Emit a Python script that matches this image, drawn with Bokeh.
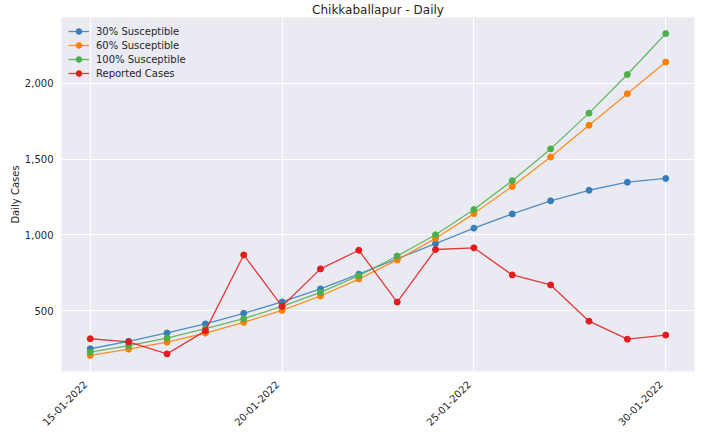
import math
import pandas as pd
from bokeh.plotting import figure
from bokeh.models import (FixedTicker, NumeralTickFormatter, DatetimeTickFormatter,
                          Range1d, DatetimeAxis)
from bokeh.embed import file_html
from bokeh.resources import INLINE

dates = ["15-01-2022", "16-01-2022", "17-01-2022", "18-01-2022", "19-01-2022",
         "20-01-2022", "21-01-2022", "22-01-2022", "23-01-2022", "24-01-2022",
         "25-01-2022", "26-01-2022", "27-01-2022", "28-01-2022", "29-01-2022",
         "30-01-2022"]
sus30 = [248, 297, 352, 412, 482, 557, 643, 740, 842, 942, 1044, 1138, 1224, 1294, 1347, 1372]
sus60 = [204, 245, 291, 351, 422, 501, 596, 708, 834, 976, 1140, 1319, 1513, 1723, 1931, 2140]
sus100 = [226, 268, 318, 380, 446, 528, 620, 730, 860, 1000, 1167, 1357, 1567, 1803, 2058, 2328]
reported = [314, 293, 214, 366, 867, 528, 775, 898, 556, 903, 914, 735, 669, 430, 311, 338]
tick_dates = ["15-01-2022", "20-01-2022", "25-01-2022", "30-01-2022"]
y_ticks = [500, 1000, 1500, 2000]

series = [
    ("30% Susceptible", sus30, "#377eb8"),
    ("60% Susceptible", sus60, "#ff7f00"),
    ("100% Susceptible", sus100, "#4daf4a"),
    ("Reported Cases", reported, "#e41a1c"),
]

x = pd.to_datetime(dates, format="%d-%m-%Y")
xt = pd.to_datetime(tick_dates, format="%d-%m-%Y")
xt_ms = [int(t.value // 10**6) for t in xt]
x0 = x[0].value // 10**6
x1 = x[-1].value // 10**6
span = x1 - x0

allv = sus30 + sus60 + sus100 + reported
lo, hi = min(allv), max(allv)
pad = 0.05 * (hi - lo)

W, H = 707, 434
BL, BR = 61, 13
xs, xe = x0 - 0.05 * span, x1 + 0.05 * span

p = figure(width=W, height=H, x_axis_type="datetime",
           output_backend="svg", toolbar_location=None,
           x_range=Range1d(xs, xe),
           y_range=Range1d(lo - pad, hi + pad),
           min_border_left=BL, min_border_right=BR, min_border_top=17, min_border_bottom=63)

# label axis: same scale, shifted a few px so rotated labels end at the tick (matplotlib ha="right")
shift = 5 * (xe - xs) / (W - BL - BR)
p.extra_x_ranges = {"lbl": Range1d(xs + shift, xe + shift)}

p.title.text = "Chikkaballapur - Daily"
p.title.align = "center"
p.title.text_font = "DejaVu Sans"
p.title.text_font_size = "12px"
p.title.text_font_style = "normal"
p.title.text_color = "#262626"
p.title.standoff = 1
p.title.offset = 0

p.background_fill_color = "#EAEAF2"
p.border_fill_color = "white"
p.outline_line_color = None

for s_label, vals, col in series:
    p.line(x, vals, line_color=col, line_width=1.3, line_alpha=0.85, legend_label=s_label)
    p.scatter(x, vals, size=6, fill_color=col, line_color=col, legend_label=s_label)

p.xaxis.visible = False
xax = DatetimeAxis(x_range_name="lbl", ticker=FixedTicker(ticks=xt_ms),
                   formatter=DatetimeTickFormatter(days="%d-%m-%Y", months="%d-%m-%Y", years="%d-%m-%Y"),
                   major_label_orientation=math.pi / 4)
p.add_layout(xax, "below")

p.yaxis.ticker = FixedTicker(ticks=y_ticks)
p.yaxis.formatter = NumeralTickFormatter(format="0,0")
p.yaxis.axis_label = "Daily Cases"

for ax in (xax, p.yaxis[0]):
    ax.axis_line_color = None
    ax.major_tick_line_color = None
    ax.minor_tick_line_color = None
    ax.major_tick_in = 0
    ax.major_tick_out = 0
    ax.minor_tick_in = 0
    ax.minor_tick_out = 0
    ax.major_label_text_font = "DejaVu Sans"
    ax.major_label_text_font_size = "10px"
    ax.major_label_text_color = "#262626"
    ax.axis_label_text_font = "DejaVu Sans"
    ax.axis_label_text_font_size = "10px"
    ax.axis_label_text_font_style = "normal"
    ax.axis_label_text_color = "#262626"
xax.major_label_standoff = 11
p.yaxis.major_label_standoff = 8
p.yaxis.axis_label_standoff = 1

p.xgrid.ticker = FixedTicker(ticks=xt_ms)
p.ygrid.ticker = FixedTicker(ticks=y_ticks)
for g in (p.xgrid, p.ygrid):
    g.grid_line_color = "white"
    g.grid_line_width = 1

lg = p.legend[0]
lg.location = "top_left"
lg.margin = 7
lg.padding = 0
lg.spacing = 0
lg.label_height = 14
lg.glyph_height = 14
lg.glyph_width = 21
lg.label_standoff = 7
lg.background_fill_alpha = 0
lg.border_line_color = None
lg.label_text_font = "DejaVu Sans"
lg.label_text_font_size = "10px"
lg.label_text_color = "#262626"

open("out.html", "w").write(file_html(p, INLINE))
